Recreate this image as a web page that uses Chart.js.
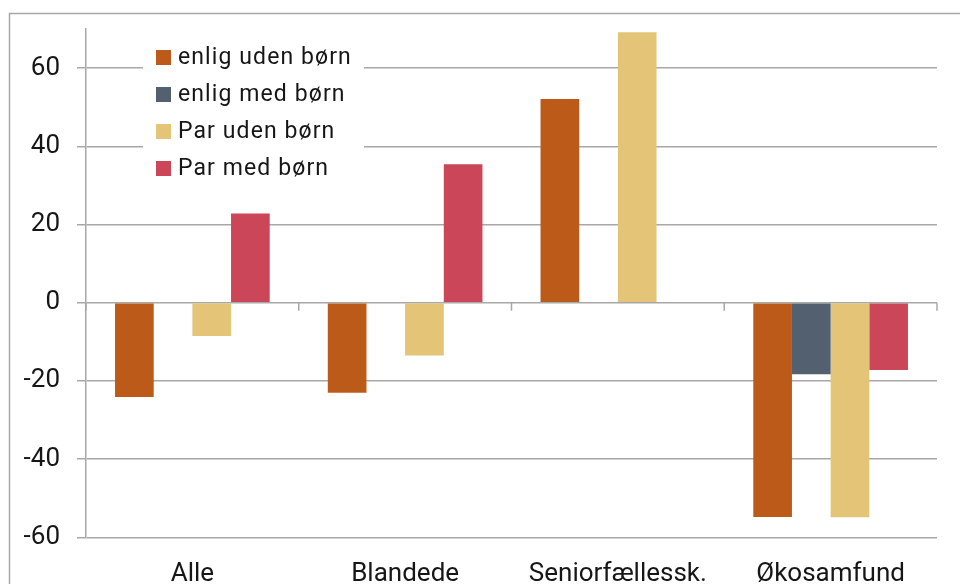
<!DOCTYPE html>
<html lang="da">
<head>
<meta charset="utf-8">
<title>Fordeling efter husstandstype</title>
<script src="https://cdn.jsdelivr.net/npm/chart.js@4/dist/chart.umd.min.js"></script>
<style>
  html, body { margin: 0; padding: 0; background: #ffffff; }
  #wrap { width: 960px; height: 584px; position: relative; }
</style>
</head>
<body>
<div id="wrap"><canvas id="chart" width="960" height="584"></canvas></div>
<script>
// Categories and series values
const categories = ['Alle', 'Blandede', 'Seniorfællessk.', 'Økosamfund'];
const enligUdenBorn = [-24.1, -23.0, 52.1, -54.8];
const enligMedBorn  = [null, null, null, -18.3];
const parUdenBorn   = [-8.5, -13.5, 69.2, -54.9];
const parMedBorn    = [22.8, 35.4, null, -17.2];
const seriesNames   = ['enlig uden børn', 'enlig med børn', 'Par uden børn', 'Par med børn'];
const yTicks        = [-60, -40, -20, 0, 20, 40, 60];

const colors = ['#BC5A19', '#536070', '#E4C578', '#CB4659'];
const gridColor = '#A8A8A8';
const textColor = '#161616';
const FONT = 'Roboto, "Liberation Sans", sans-serif';

// Outer frame around the figure
const framePlugin = {
  id: 'frame',
  beforeDraw(chart) {
    const ctx = chart.ctx;
    ctx.save();
    ctx.strokeStyle = gridColor;
    ctx.lineWidth = 1.5;
    ctx.strokeRect(9.5, 13.5, 1200, 1200);
    ctx.restore();
  }
};

// Small tick marks on the zero line between categories
const zeroTicksPlugin = {
  id: 'zeroTicks',
  afterDatasetsDraw(chart) {
    const x = chart.scales.x, y = chart.scales.y;
    const y0 = y.getPixelForValue(0);
    const ctx = chart.ctx;
    ctx.save();
    ctx.strokeStyle = gridColor;
    ctx.lineWidth = 1.5;
    const n = categories.length;
    for (let i = 0; i <= n; i++) {
      const px = x.left + (x.right - x.left) * i / n;
      ctx.beginPath();
      ctx.moveTo(px, y0);
      ctx.lineTo(px, y0 + 8);
      ctx.stroke();
    }
    ctx.restore();
  }
};

// Legend drawn inside the plot on a white panel
const insetLegendPlugin = {
  id: 'insetLegend',
  afterDraw(chart) {
    const ctx = chart.ctx;
    ctx.save();
    ctx.fillStyle = '#ffffff';
    ctx.fillRect(143, 34, 221, 156);
    ctx.font = '23px ' + FONT;
    ctx.textBaseline = 'middle';
    ctx.textAlign = 'left';
    if ('letterSpacing' in ctx) ctx.letterSpacing = '1.1px';
    chart.data.datasets.forEach((ds, i) => {
      const cy = 57.5 + i * 37;
      ctx.fillStyle = ds.backgroundColor;
      ctx.fillRect(156, cy - 7.5, 15, 15);
      ctx.fillStyle = textColor;
      ctx.fillText(ds.label, 178, cy + 1);
    });
    ctx.restore();
  }
};

const seriesValues = [enligUdenBorn, enligMedBorn, parUdenBorn, parMedBorn];

new Chart(document.getElementById('chart'), {
  type: 'bar',
  data: {
    labels: categories,
    datasets: seriesValues.map((vals, i) => ({
      label: seriesNames[i],
      data: vals,
      backgroundColor: colors[i],
      borderWidth: 0,
      categoryPercentage: 0.727,
      barPercentage: 1.0
    }))
  },
  options: {
    responsive: false,
    animation: false,
    layout: { padding: { top: 29, right: 23, left: 0, bottom: 0 } },
    plugins: {
      legend: { display: false },
      tooltip: { enabled: false }
    },
    scales: {
      x: {
        grid: { display: false, drawTicks: false },
        border: { display: false },
        ticks: {
          color: textColor,
          font: { family: FONT, size: 26 },
          padding: 22,
          maxRotation: 0,
          autoSkip: false
        },
        afterFit(scale) { scale.height = 46.7; }
      },
      y: {
        min: -60,
        max: 70,
        afterBuildTicks(scale) { scale.ticks = yTicks.map(v => ({ value: v })); },
        grid: {
          color: gridColor,
          lineWidth: 1.5,
          drawTicks: true,
          tickLength: 9,
          tickColor: gridColor
        },
        border: { display: true, color: gridColor, width: 1.5 },
        ticks: {
          color: textColor,
          font: { family: FONT, size: 26 },
          padding: 17
        },
        afterFit(scale) {
          scale.width = 86;
          scale.paddingTop = 0;
          scale.paddingBottom = 0;
        }
      }
    }
  },
  plugins: [framePlugin, zeroTicksPlugin, insetLegendPlugin]
});
</script>
</body>
</html>
